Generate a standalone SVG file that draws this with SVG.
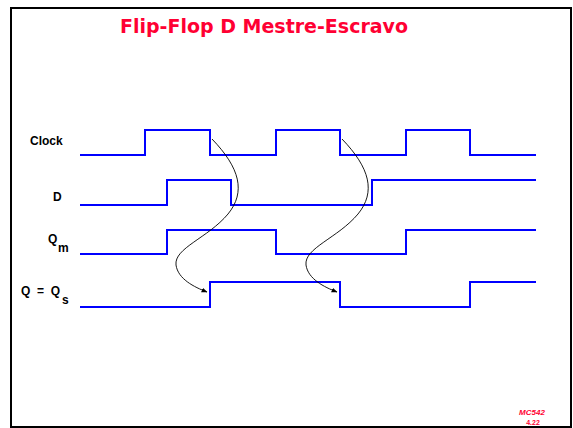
<svg xmlns="http://www.w3.org/2000/svg" width="573" height="428" viewBox="0 0 573 428">
<style>
.wave{fill:none;stroke:#0000FF;stroke-width:2}
.lbl{font-family:"Liberation Sans",Arial,sans-serif;font-weight:bold;font-size:12px;fill:#000}
.sub{font-family:"Liberation Sans",Arial,sans-serif;font-weight:bold;font-size:12px;fill:#000}
.arc{fill:none;stroke:#000;stroke-width:0.9;marker-end:url(#ah)}
</style>
<defs>
<marker id="ah" viewBox="0 0 10 10" refX="9" refY="5" markerWidth="6" markerHeight="6" markerUnits="userSpaceOnUse" orient="auto">
<path d="M0,1 L10,5 L0,9 Z" fill="#000"/>
</marker>
</defs>
<rect x="0" y="0" width="573" height="428" fill="#fff"/>
<rect x="11" y="8" width="560" height="419" fill="#fff" stroke="#000" stroke-width="2"/>
<text x="264" y="33" text-anchor="middle" textLength="288" lengthAdjust="spacingAndGlyphs" font-family="'DejaVu Sans',sans-serif" font-weight="bold" font-size="19" fill="#FF0033">Flip-Flop D Mestre-Escravo</text>
<g id="clock">
<text class="lbl" x="30" y="145">Clock</text>
<path class="wave" d="M80,155 H145 V130 H210 V155 H276 V130 H340 V155 H406 V130 H470 V155 H536"/>
</g>
<g id="d">
<text class="lbl" x="53" y="201">D</text>
<path class="wave" d="M80,205 H167 V180 H231 V205 H372 V180 H536"/>
</g>
<g id="qm">
<text class="lbl" x="48" y="243">Q</text>
<text class="sub" x="58" y="252">m</text>
<path class="wave" d="M80,254 H167 V230 H276 V254 H406 V230 H536"/>
</g>
<g id="q">
<text class="lbl" x="21" y="295" xml:space="preserve">Q  =  Q</text>
<text class="sub" x="62" y="304">s</text>
<path class="wave" d="M80,307 H210 V282 H340 V307 H470 V282 H536"/>
</g>
<g id="connectors">
<path class="arc" d="M212,139 C240,168 246,192 228,214 C208,238 174,248 176,265 C178,279 194,287 207,292"/>
<path class="arc" d="M342,139 C370,168 376,192 358,214 C338,238 304,248 306,265 C308,279 324,287 337,292"/>
</g>
<g id="footer">
<text x="532" y="415" text-anchor="middle" font-family="'Liberation Sans',Arial,sans-serif" font-style="italic" font-weight="bold" font-size="8" fill="#FF0033">MC542</text>
<text x="533" y="425" text-anchor="middle" font-family="'Liberation Sans',Arial,sans-serif" font-weight="bold" font-size="7" fill="#FF0033">4.22</text>
</g>
</svg>
